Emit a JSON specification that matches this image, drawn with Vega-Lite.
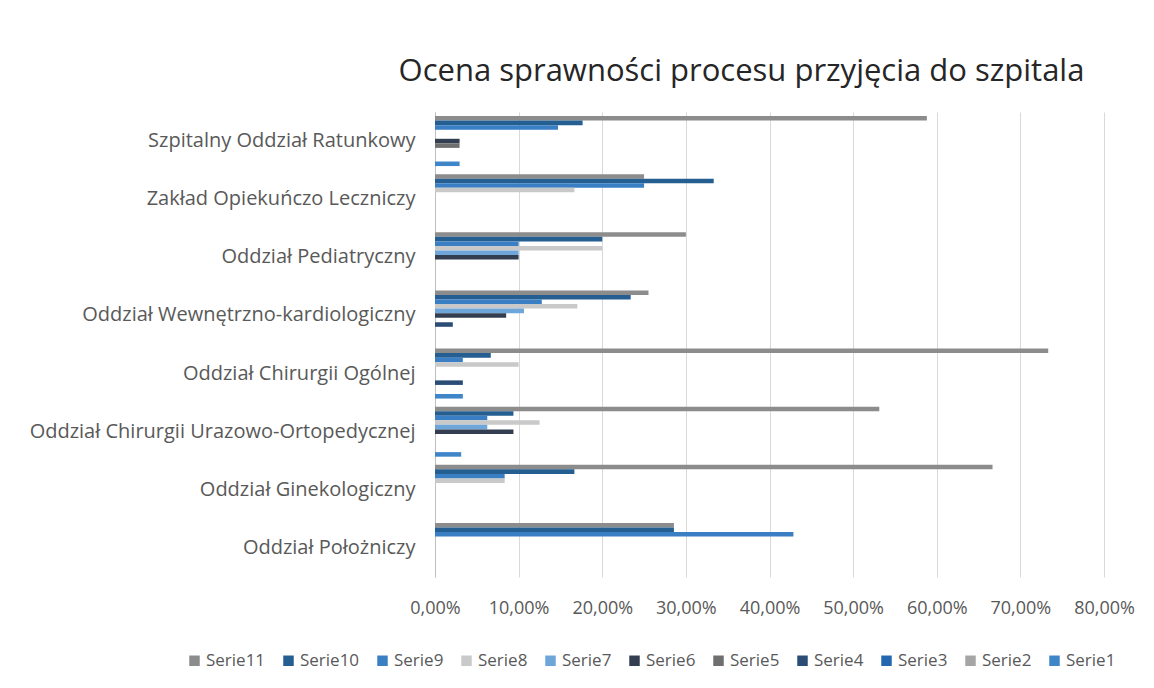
{
  "$schema": "https://vega.github.io/schema/vega-lite/v6.json",
  "width": 669,
  "height": 465,
  "autosize": {"type": "none"},
  "padding": {"left": 435, "top": 112, "right": 50, "bottom": 111},
  "background": "white",
  "title": {
    "text": "Ocena sprawności procesu przyjęcia do szpitala",
    "font": "Open Sans",
    "fontSize": 31,
    "fontWeight": "normal",
    "color": "#262626",
    "anchor": "middle",
    "dx": -28,
    "offset": 24
  },
  "data": {
    "values": [
      {"oddzial": "Szpitalny Oddział Ratunkowy", "seria": "Serie11", "wartosc": 0.5882},
      {"oddzial": "Szpitalny Oddział Ratunkowy", "seria": "Serie10", "wartosc": 0.1765},
      {"oddzial": "Szpitalny Oddział Ratunkowy", "seria": "Serie9", "wartosc": 0.1471},
      {"oddzial": "Szpitalny Oddział Ratunkowy", "seria": "Serie6", "wartosc": 0.0294},
      {"oddzial": "Szpitalny Oddział Ratunkowy", "seria": "Serie5", "wartosc": 0.0294},
      {"oddzial": "Szpitalny Oddział Ratunkowy", "seria": "Serie1", "wartosc": 0.0294},
      {"oddzial": "Zakład Opiekuńczo Leczniczy", "seria": "Serie11", "wartosc": 0.25},
      {"oddzial": "Zakład Opiekuńczo Leczniczy", "seria": "Serie10", "wartosc": 0.3333},
      {"oddzial": "Zakład Opiekuńczo Leczniczy", "seria": "Serie9", "wartosc": 0.25},
      {"oddzial": "Zakład Opiekuńczo Leczniczy", "seria": "Serie8", "wartosc": 0.1667},
      {"oddzial": "Oddział Pediatryczny", "seria": "Serie11", "wartosc": 0.30},
      {"oddzial": "Oddział Pediatryczny", "seria": "Serie10", "wartosc": 0.20},
      {"oddzial": "Oddział Pediatryczny", "seria": "Serie9", "wartosc": 0.10},
      {"oddzial": "Oddział Pediatryczny", "seria": "Serie8", "wartosc": 0.20},
      {"oddzial": "Oddział Pediatryczny", "seria": "Serie7", "wartosc": 0.10},
      {"oddzial": "Oddział Pediatryczny", "seria": "Serie6", "wartosc": 0.10},
      {"oddzial": "Oddział Wewnętrzno-kardiologiczny", "seria": "Serie11", "wartosc": 0.2553},
      {"oddzial": "Oddział Wewnętrzno-kardiologiczny", "seria": "Serie10", "wartosc": 0.2340},
      {"oddzial": "Oddział Wewnętrzno-kardiologiczny", "seria": "Serie9", "wartosc": 0.1277},
      {"oddzial": "Oddział Wewnętrzno-kardiologiczny", "seria": "Serie8", "wartosc": 0.1702},
      {"oddzial": "Oddział Wewnętrzno-kardiologiczny", "seria": "Serie7", "wartosc": 0.1064},
      {"oddzial": "Oddział Wewnętrzno-kardiologiczny", "seria": "Serie6", "wartosc": 0.0851},
      {"oddzial": "Oddział Wewnętrzno-kardiologiczny", "seria": "Serie4", "wartosc": 0.0213},
      {"oddzial": "Oddział Chirurgii Ogólnej", "seria": "Serie11", "wartosc": 0.7333},
      {"oddzial": "Oddział Chirurgii Ogólnej", "seria": "Serie10", "wartosc": 0.0667},
      {"oddzial": "Oddział Chirurgii Ogólnej", "seria": "Serie9", "wartosc": 0.0333},
      {"oddzial": "Oddział Chirurgii Ogólnej", "seria": "Serie8", "wartosc": 0.10},
      {"oddzial": "Oddział Chirurgii Ogólnej", "seria": "Serie4", "wartosc": 0.0333},
      {"oddzial": "Oddział Chirurgii Ogólnej", "seria": "Serie1", "wartosc": 0.0333},
      {"oddzial": "Oddział Chirurgii Urazowo-Ortopedycznej", "seria": "Serie11", "wartosc": 0.5313},
      {"oddzial": "Oddział Chirurgii Urazowo-Ortopedycznej", "seria": "Serie10", "wartosc": 0.0938},
      {"oddzial": "Oddział Chirurgii Urazowo-Ortopedycznej", "seria": "Serie9", "wartosc": 0.0625},
      {"oddzial": "Oddział Chirurgii Urazowo-Ortopedycznej", "seria": "Serie8", "wartosc": 0.125},
      {"oddzial": "Oddział Chirurgii Urazowo-Ortopedycznej", "seria": "Serie7", "wartosc": 0.0625},
      {"oddzial": "Oddział Chirurgii Urazowo-Ortopedycznej", "seria": "Serie6", "wartosc": 0.0938},
      {"oddzial": "Oddział Chirurgii Urazowo-Ortopedycznej", "seria": "Serie1", "wartosc": 0.0313},
      {"oddzial": "Oddział Ginekologiczny", "seria": "Serie11", "wartosc": 0.6667},
      {"oddzial": "Oddział Ginekologiczny", "seria": "Serie10", "wartosc": 0.1667},
      {"oddzial": "Oddział Ginekologiczny", "seria": "Serie9", "wartosc": 0.0833},
      {"oddzial": "Oddział Ginekologiczny", "seria": "Serie8", "wartosc": 0.0833},
      {"oddzial": "Oddział Położniczy", "seria": "Serie11", "wartosc": 0.2857},
      {"oddzial": "Oddział Położniczy", "seria": "Serie10", "wartosc": 0.2857},
      {"oddzial": "Oddział Położniczy", "seria": "Serie9", "wartosc": 0.4286}
    ]
  },
  "mark": {"type": "bar"},
  "encoding": {
    "y": {
      "field": "oddzial",
      "type": "nominal",
      "sort": ["Szpitalny Oddział Ratunkowy", "Zakład Opiekuńczo Leczniczy", "Oddział Pediatryczny", "Oddział Wewnętrzno-kardiologiczny", "Oddział Chirurgii Ogólnej", "Oddział Chirurgii Urazowo-Ortopedycznej", "Oddział Ginekologiczny", "Oddział Położniczy"],
      "scale": {"paddingInner": 0.14, "paddingOuter": 0.07},
      "axis": {
        "title": null,
        "ticks": false,
        "domain": true,
        "domainColor": "#bfbfbf",
        "labelFont": "Open Sans",
        "labelFontSize": 20,
        "labelColor": "#595959",
        "labelPadding": 20,
        "labelLimit": 430
      }
    },
    "yOffset": {
      "field": "seria",
      "type": "nominal",
      "scale": {
        "domain": ["Serie11", "Serie10", "Serie9", "Serie8", "Serie7", "Serie6", "Serie5", "Serie4", "Serie3", "Serie2", "Serie1"],
        "paddingInner": 0,
        "paddingOuter": 0
      }
    },
    "x": {
      "field": "wartosc",
      "type": "quantitative",
      "scale": {"domain": [0, 0.8], "nice": false},
      "axis": {
        "title": null,
        "values": [0, 0.1, 0.2, 0.3, 0.4, 0.5, 0.6, 0.7, 0.8],
        "labelExpr": "replace(format(datum.value, '.2%'), '.', ',')",
        "labelOverlap": false,
        "labelFlush": false,
        "ticks": false,
        "domain": false,
        "grid": true,
        "gridColor": "#d9d9d9",
        "labelFont": "Open Sans",
        "labelFontSize": 18,
        "labelColor": "#595959",
        "labelPadding": 22
      }
    },
    "color": {
      "field": "seria",
      "type": "nominal",
      "scale": {
        "domain": ["Serie11", "Serie10", "Serie9", "Serie8", "Serie7", "Serie6", "Serie5", "Serie4", "Serie3", "Serie2", "Serie1"],
        "range": ["#8c8c8c", "#255e91", "#3a7fc4", "#c9c9c9", "#6ea6da", "#333f50", "#6f6f6f", "#2b4d75", "#2566b0", "#a5a5a5", "#3f86c8"]
      },
      "legend": {
        "title": null,
        "orient": "none",
        "legendX": -249,
        "legendY": 540,
        "direction": "horizontal",
        "columns": 11,
        "symbolType": "square",
        "symbolSize": 110,
        "symbolStrokeWidth": 0,
        "labelFont": "Open Sans",
        "labelFontSize": 17,
        "labelColor": "#595959",
        "labelOffset": 3,
        "columnPadding": 14
      }
    }
  },
  "config": {"view": {"stroke": null}}
}
